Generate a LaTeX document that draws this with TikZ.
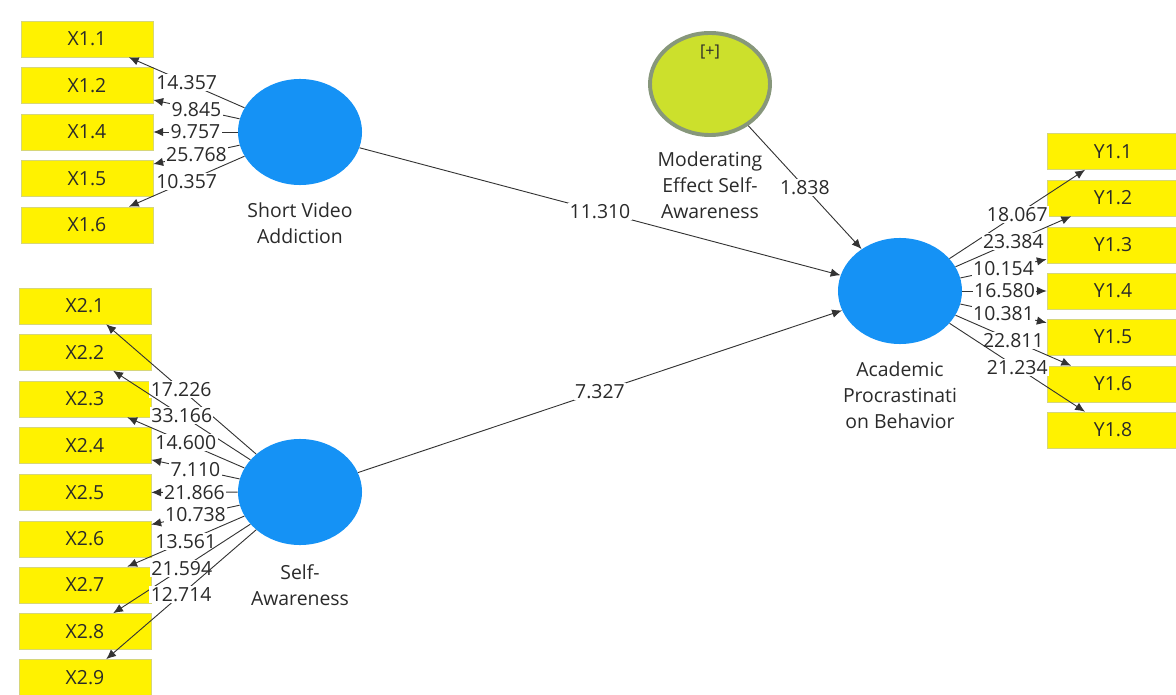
\documentclass[tikz,border=0pt]{standalone}
\usepackage{fontspec}
\setmainfont{Open Sans}
\usetikzlibrary{shapes.geometric,arrows.meta,positioning}

\definecolor{lvblue}{HTML}{1592F5}
\definecolor{modfill}{HTML}{CCE02C}
\definecolor{modring}{HTML}{87977B}
\definecolor{linegray}{HTML}{333333}
\definecolor{txtgray}{HTML}{2A2A2A}
\definecolor{boxedge}{HTML}{D6D67A}

\def\pxu{0.025cm}

\begin{document}
\begin{tikzpicture}[x=\pxu,y=-\pxu,font=\fontsize{13.8}{18.5}\selectfont,text=txtgray,>={Latex[length=7pt,width=6pt]}]
    \tikzstyle{latent}=[ellipse,fill=lvblue,minimum width=3.1cm,minimum height=2.65cm,inner sep=0pt]
    \tikzstyle{moder}=[ellipse,fill=modfill,draw=modring,line width=2.8pt,minimum width=3.0cm,minimum height=2.55cm,inner sep=0pt]
    \tikzstyle{ind}=[rectangle,fill=yellow,draw=boxedge,line width=0.4pt,minimum width=3.3cm,minimum height=0.9cm,inner sep=0pt]
    \tikzstyle{link}=[->,draw=linegray,line width=0.65pt]
    \tikzstyle{coef}=[midway,fill=white,inner sep=1pt]
    \tikzstyle{lvname}=[align=center,inner sep=0pt]

    \useasboundingbox (0,0) rectangle (1176,695);

    % latent variables
    \node[latent] (sva) at (300,132) {};
    \node[latent] (saw) at (300,492) {};
    \node[latent] (apb) at (900,291) {};
    \node[moder] (mod) at (710,84) {};
    \node[font=\fontsize{11.5}{13}\selectfont] (modplus) at (710,52) {[+]};

    \node[lvname, below=0.42cm of sva] (svaname) {Short Video\\Addiction};
    \node[lvname, below=0.47cm of saw] (sawname) {Self-\\Awareness};
    \node[lvname, below=0.42cm of apb] (apbname) {Academic\\Procrastinati\\on Behavior};
    \node[lvname, below=0.37cm of mod] (modname) {Moderating\\Effect Self-\\Awareness};

    % indicators
    \node[ind] (x11) at (87,39) {X1.1};
    \node[ind] (x12) at (87,85.5) {X1.2};
    \node[ind] (x14) at (87,132) {X1.4};
    \node[ind] (x15) at (87,178.5) {X1.5};
    \node[ind] (x16) at (87,225) {X1.6};

    \node[ind] (x21) at (85,306) {X2.1};
    \node[ind] (x22) at (85,352.5) {X2.2};
    \node[ind] (x23) at (85,399) {X2.3};
    \node[ind] (x24) at (85,445.5) {X2.4};
    \node[ind] (x25) at (85,492.5) {X2.5};
    \node[ind] (x26) at (85,539) {X2.6};
    \node[ind] (x27) at (85,585) {X2.7};
    \node[ind] (x28) at (85,631.5) {X2.8};
    \node[ind] (x29) at (85,677.5) {X2.9};

    \node[ind] (y11) at (1113,151.5) {Y1.1};
    \node[ind] (y12) at (1113,198) {Y1.2};
    \node[ind] (y13) at (1113,245) {Y1.3};
    \node[ind] (y14) at (1113,291) {Y1.4};
    \node[ind] (y15) at (1113,337) {Y1.5};
    \node[ind] (y16) at (1113,384) {Y1.6};
    \node[ind] (y18) at (1113,430) {Y1.8};

    % inner model
    \draw[link] (sva) -- (apb) node[coef] {11.310};
    \draw[link] (saw) -- (apb) node[coef] {7.327};
    \draw[link] (mod) -- (apb) node[coef] {1.838};

    % outer model
    \draw[link] (sva) -- (x11) node[coef] {14.357};
    \draw[link] (sva) -- (x12) node[coef] {9.845};
    \draw[link] (sva) -- (x14) node[coef] {9.757};
    \draw[link] (sva) -- (x15) node[coef] {25.768};
    \draw[link] (sva) -- (x16) node[coef] {10.357};

    \draw[link] (saw) -- (x21) node[coef] {17.226};
    \draw[link] (saw) -- (x22) node[coef] {33.166};
    \draw[link] (saw) -- (x23) node[coef] {14.600};
    \draw[link] (saw) -- (x24) node[coef] {7.110};
    \draw[link] (saw) -- (x25) node[coef] {21.866};
    \draw[link] (saw) -- (x26) node[coef] {10.738};
    \draw[link] (saw) -- (x27) node[coef] {13.561};
    \draw[link] (saw) -- (x28) node[coef] {21.594};
    \draw[link] (saw) -- (x29) node[coef] {12.714};

    \draw[link] (apb) -- (y11) node[coef] {18.067};
    \draw[link] (apb) -- (y12) node[coef] {23.384};
    \draw[link] (apb) -- (y13) node[coef] {10.154};
    \draw[link] (apb) -- (y14) node[coef] {16.580};
    \draw[link] (apb) -- (y15) node[coef] {10.381};
    \draw[link] (apb) -- (y16) node[coef] {22.811};
    \draw[link] (apb) -- (y18) node[coef] {21.234};
\end{tikzpicture}
\end{document}
